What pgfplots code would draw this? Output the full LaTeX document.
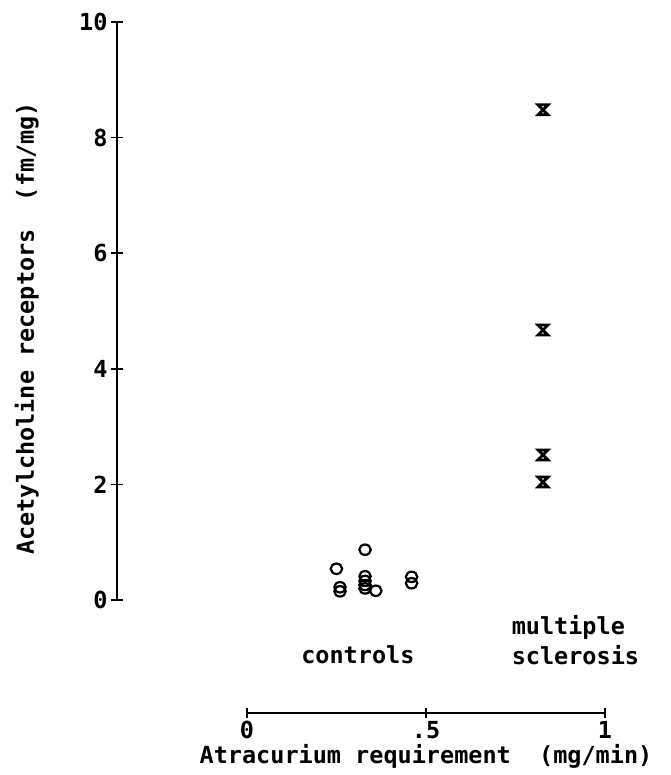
\documentclass[border=0pt]{standalone}
\usepackage{fontspec}
\setmainfont{DejaVu Sans Mono}
\usepackage{pgfplots}
\pgfplotsset{compat=1.18}
\usetikzlibrary{calc}

\pgfdeclareplotmark{hglass}{%
  \pgfpathmoveto{\pgfqpoint{-\pgfplotmarksize}{\pgfplotmarksize}}%
  \pgfpathlineto{\pgfqpoint{\pgfplotmarksize}{\pgfplotmarksize}}%
  \pgfpathlineto{\pgfqpoint{-\pgfplotmarksize}{-\pgfplotmarksize}}%
  \pgfpathlineto{\pgfqpoint{\pgfplotmarksize}{-\pgfplotmarksize}}%
  \pgfpathclose\pgfusepathqstroke}

\newcommand{\pfont}{\fontsize{23.5}{27}\selectfont\bfseries}

\begin{document}
\begin{tikzpicture}
% y axis with the data
\begin{axis}[
    name=main,
    scale only axis, width=553pt, height=578pt,
    xmin=-0.363, xmax=1.182, ymin=0, ymax=10,
    axis x line=none, axis y line=left,
    axis line style={-, line width=1.6pt},
    ytick={0,2,...,10}, ytick align=center, major tick length=12pt,
    tick style={line width=1.6pt, black},
    /pgf/number format/assume math mode=true,
    tick label style={font=\pfont},
    ylabel={Acetylcholine receptors\ \ (fm/mg)},
    ylabel style={font=\pfont, at={(axis description cs:-0.163,0.47)}, anchor=center, rotate=0},
    clip=false,
]
% controls
\addplot[only marks, mark=o, mark size=5.2pt, mark options={line width=2.2pt, xscale=1.1}] coordinates {
    (0.25,0.54) (0.26,0.22) (0.26,0.15) (0.33,0.87) (0.33,0.41) (0.33,0.33)
    (0.33,0.26) (0.33,0.20) (0.36,0.16) (0.46,0.40) (0.46,0.29)
};
% multiple sclerosis
\addplot[only marks, mark=hglass, mark size=5pt, mark options={line width=2.8pt}] coordinates {
    (0.827,8.48) (0.827,4.67) (0.827,2.51) (0.827,2.04)
};
\node[font=\pfont] at (axis cs:0.31,-0.95) {controls};
\node[font=\pfont, anchor=west] at (axis cs:0.73,-0.47) {multiple};
\node[font=\pfont, anchor=west] at (axis cs:0.73,-0.95) {sclerosis};
\end{axis}
% separate x axis
\begin{axis}[
    at={($(main.south west)+(130pt,-113pt)$)}, anchor=south west,
    scale only axis, width=358pt, height=1pt,
    xmin=0, xmax=1, ymin=0, ymax=1,
    axis x line=bottom, axis y line=none,
    axis line style={-, line width=1.6pt},
    xtick={0,0.5,1}, xticklabels={0,.5,1},
    xtick align=center, major tick length=10pt,
    tick style={line width=1.6pt, black},
    tick label style={font=\pfont},
    xlabel={Atracurium requirement\ \ (mg/min)},
    xlabel style={font=\pfont, yshift=2pt},
    clip=false,
]
\addplot[draw=none] coordinates {(0,0) (1,0)};
\end{axis}
\path[use as bounding box] ($(main.south west)+(-117pt,-175pt)$) rectangle ++(670pt,775pt);
\end{tikzpicture}
\end{document}
